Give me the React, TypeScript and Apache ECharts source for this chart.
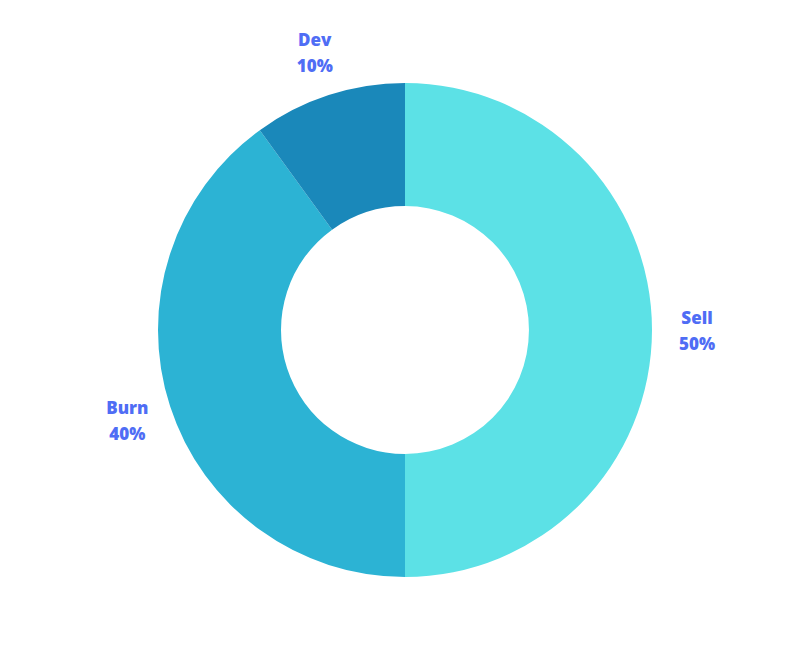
import React, { useEffect, useRef } from "react";
import * as echarts from "echarts";

const categories = ["Sell", "Burn", "Dev"];
const values = [50, 40, 10];
const colors = ["#5CE1E6", "#2CB3D4", "#1A88BA"];

export default function App() {
  const ref = useRef<HTMLDivElement>(null);
  useEffect(() => {
    const chart = echarts.init(ref.current!, null, { renderer: "svg" });
    const data = categories.map((c, i) => ({
      name: c,
      value: values[i],
      itemStyle: { color: colors[i] },
    }));
    chart.setOption({
      animation: false,
      series: [
        {
          type: "pie",
          center: [405, 330],
          radius: [124, 247],
          startAngle: 90,
          clockwise: true,
          silent: true,
          data,
          label: { show: false },
          labelLine: { show: false },
        },
        {
          type: "pie",
          center: [405, 330],
          radius: [279, 299],
          startAngle: 90,
          clockwise: true,
          silent: true,
          data: categories.map((c, i) => ({ name: c, value: values[i] })),
          itemStyle: { color: "rgba(0,0,0,0)" },
          label: {
            show: true,
            position: "inside",
            formatter: "{b}\n{d}%",
            color: "#4F6DF5",
            fontFamily: "Open Sans",
            fontWeight: 800,
            fontSize: 17,
            lineHeight: 26,
            align: "center",
            verticalAlign: "middle",
          },
          labelLine: { show: false },
        },
      ],
    });
    return () => chart.dispose();
  }, []);
  return (
    <div
      ref={ref}
      style={{ position: "absolute", left: 0, top: 0, width: 810, height: 660 }}
    />
  );
}
